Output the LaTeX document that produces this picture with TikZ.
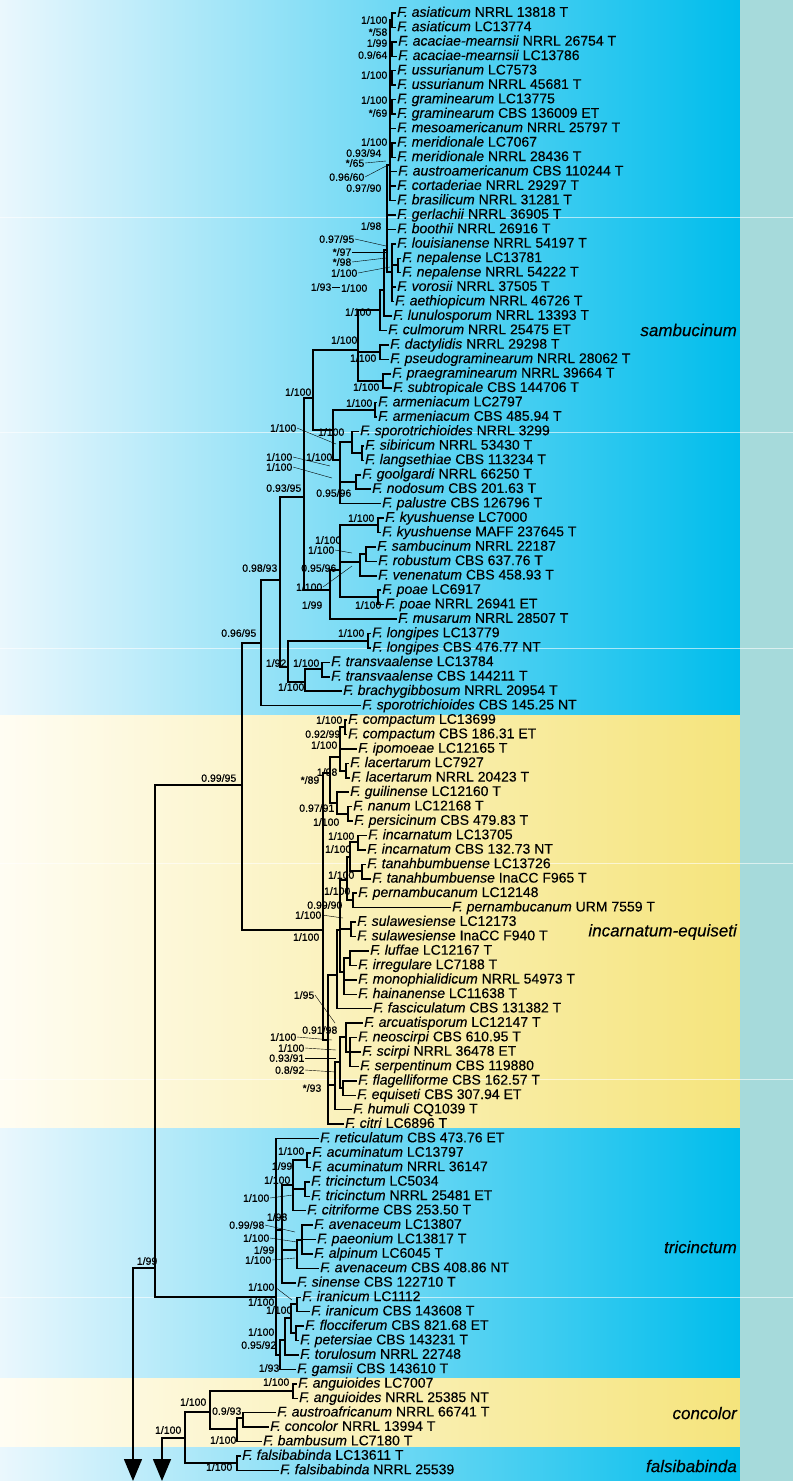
\documentclass[tikz,border=0pt]{standalone}
\usepackage{fontspec}
\setmainfont{Liberation Sans}
\newfontfamily\tipfont{Liberation Sans}[FakeBold=0.25]
\newfontfamily\supfont{Liberation Sans}[FakeBold=0.5]
\usetikzlibrary{arrows.meta}
\definecolor{bL}{HTML}{EAF7FD}
\definecolor{bM}{HTML}{A2DDF4}
\definecolor{bR}{HTML}{00BDEC}
\definecolor{yL}{HTML}{FFFDF3}
\definecolor{yM}{HTML}{FBF1C4}
\definecolor{yR}{HTML}{F5E47C}
\definecolor{strip}{HTML}{A6DADB}
\tikzset{
  tiplab/.style={anchor=west,inner xsep=2pt,inner ysep=0pt,text height=10pt,text depth=2.5pt,font=\tipfont\fontsize{14}{14}\selectfont},
  sup/.style={anchor=east,inner sep=0.5pt,font=\supfont\fontsize{10.5}{10.5}\selectfont},
  clade/.style={anchor=east,inner sep=0pt,font=\tipfont\fontsize{17}{17}\selectfont\itshape},
  branch/.style={line width=1.5pt,line cap=rect},
  lead/.style={line width=0.4pt},
  blueband/.style={left color=bL,middle color=bM,right color=bR},
  yellowband/.style={left color=yL,middle color=yM,right color=yR}
}
\newcommand\tx[4]{\node[tiplab] (#1) at ({#3-2},{13+(#2-1)*14.43}) {#4};}
\newcommand\sv[4]{\node[sup] (#1) at (#2,#3) {#4};}
\newcommand\eN[2]{\draw[branch] (#1) |- (#2);}
\newcommand\eT[2]{\draw[branch] (#1) |- (#2.west);}
\begin{document}
\begin{tikzpicture}[x=1pt,y=-1pt]
\useasboundingbox (0,0) rectangle (793,1481);
% backgrounds
\shade[blueband] (0,0) rectangle (740,715);
\shade[yellowband] (0,715) rectangle (740,1128);
\shade[blueband] (0,1128) rectangle (740,1378);
\shade[yellowband] (0,1378) rectangle (740,1447);
\shade[blueband] (0,1447) rectangle (740,1481);
\fill[strip] (740,0) rectangle (793,1481);
\foreach \yy in {217,432,648,863,1079,1297} \draw[white,line width=0.7pt,opacity=0.6] (0,\yy) -- (793,\yy);
% clade names
\node[clade] (cl1) at (737,330) {sambucinum};
\node[clade] (cl2) at (737,932) {incarnatum-equiseti};
\node[clade] (cl3) at (737,1247) {tricinctum};
\node[clade] (cl4) at (737,1413) {concolor};
\node[clade] (cl5) at (737,1466) {falsibabinda};
% tips
\tx{t1}{1}{397}{\textit{F. asiaticum} NRRL 13818 T}
\tx{t2}{2}{397}{\textit{F. asiaticum} LC13774}
\tx{t3}{3}{398}{\textit{F. acaciae-mearnsii} NRRL 26754 T}
\tx{t4}{4}{398}{\textit{F. acaciae-mearnsii} LC13786}
\tx{t5}{5}{397}{\textit{F. ussurianum} LC7573}
\tx{t6}{6}{397}{\textit{F. ussurianum} NRRL 45681 T}
\tx{t7}{7}{397}{\textit{F. graminearum} LC13775}
\tx{t8}{8}{397}{\textit{F. graminearum} CBS 136009 ET}
\tx{t9}{9}{397}{\textit{F. mesoamericanum} NRRL 25797 T}
\tx{t10}{10}{397}{\textit{F. meridionale} LC7067}
\tx{t11}{11}{397}{\textit{F. meridionale} NRRL 28436 T}
\tx{t12}{12}{398}{\textit{F. austroamericanum} CBS 110244 T}
\tx{t13}{13}{397}{\textit{F. cortaderiae} NRRL 29297 T}
\tx{t14}{14}{397}{\textit{F. brasilicum} NRRL 31281 T}
\tx{t15}{15}{397}{\textit{F. gerlachii} NRRL 36905 T}
\tx{t16}{16}{397}{\textit{F. boothii} NRRL 26916 T}
\tx{t17}{17}{397}{\textit{F. louisianense} NRRL 54197 T}
\tx{t18}{18}{402}{\textit{F. nepalense} LC13781}
\tx{t19}{19}{402}{\textit{F. nepalense} NRRL 54222 T}
\tx{t20}{20}{397}{\textit{F. vorosii} NRRL 37505 T}
\tx{t21}{21}{395}{\textit{F. aethiopicum} NRRL 46726 T}
\tx{t22}{22}{393}{\textit{F. lunulosporum} NRRL 13393 T}
\tx{t23}{23}{388}{\textit{F. culmorum} NRRL 25475 ET}
\tx{t24}{24}{390}{\textit{F. dactylidis} NRRL 29298 T}
\tx{t25}{25}{390}{\textit{F. pseudograminearum} NRRL 28062 T}
\tx{t26}{26}{392}{\textit{F. praegraminearum} NRRL 39664 T}
\tx{t27}{27}{393}{\textit{F. subtropicale} CBS 144706 T}
\tx{t28}{28}{378}{\textit{F. armeniacum} LC2797}
\tx{t29}{29}{378}{\textit{F. armeniacum} CBS 485.94 T}
\tx{t30}{30}{360}{\textit{F. sporotrichioides} NRRL 3299}
\tx{t31}{31}{365}{\textit{F. sibiricum} NRRL 53430 T}
\tx{t32}{32}{365}{\textit{F. langsethiae} CBS 113234 T}
\tx{t33}{33}{362}{\textit{F. goolgardi} NRRL 66250 T}
\tx{t34}{34}{372}{\textit{F. nodosum} CBS 201.63 T}
\tx{t35}{35}{382}{\textit{F. palustre} CBS 126796 T}
\tx{t36}{36}{385}{\textit{F. kyushuense} LC7000}
\tx{t37}{37}{382}{\textit{F. kyushuense} MAFF 237645 T}
\tx{t38}{38}{377}{\textit{F. sambucinum} NRRL 22187}
\tx{t39}{39}{378}{\textit{F. robustum} CBS 637.76 T}
\tx{t40}{40}{378}{\textit{F. venenatum} CBS 458.93 T}
\tx{t41}{41}{382}{\textit{F. poae} LC6917}
\tx{t42}{42}{385}{\textit{F. poae} NRRL 26941 ET}
\tx{t43}{43}{398}{\textit{F. musarum} NRRL 28507 T}
\tx{t44}{44}{372}{\textit{F. longipes} LC13779}
\tx{t45}{45}{372}{\textit{F. longipes} CBS 476.77 NT}
\tx{t46}{46}{331}{\textit{F. transvaalense} LC13784}
\tx{t47}{47}{331}{\textit{F. transvaalense} CBS 144211 T}
\tx{t48}{48}{343}{\textit{F. brachygibbosum} NRRL 20954 T}
\tx{t49}{49}{362}{\textit{F. sporotrichioides} CBS 145.25 NT}
\tx{t50}{50}{348}{\textit{F. compactum} LC13699}
\tx{t51}{51}{348}{\textit{F. compactum} CBS 186.31 ET}
\tx{t52}{52}{358}{\textit{F. ipomoeae} LC12165 T}
\tx{t53}{53}{350}{\textit{F. lacertarum} LC7927}
\tx{t54}{54}{351}{\textit{F. lacertarum} NRRL 20423 T}
\tx{t55}{55}{350}{\textit{F. guilinense} LC12160 T}
\tx{t56}{56}{353}{\textit{F. nanum} LC12168 T}
\tx{t57}{57}{354}{\textit{F. persicinum} CBS 479.83 T}
\tx{t58}{58}{368}{\textit{F. incarnatum} LC13705}
\tx{t59}{59}{367}{\textit{F. incarnatum} CBS 132.73 NT}
\tx{t60}{60}{367}{\textit{F. tanahbumbuense} LC13726}
\tx{t61}{61}{372}{\textit{F. tanahbumbuense} InaCC F965 T}
\tx{t62}{62}{358}{\textit{F. pernambucanum} LC12148}
\tx{t63}{63}{452}{\textit{F. pernambucanum} URM 7559 T}
\tx{t64}{64}{357}{\textit{F. sulawesiense} LC12173}
\tx{t65}{65}{357}{\textit{F. sulawesiense} InaCC F940 T}
\tx{t66}{66}{370}{\textit{F. luffae} LC12167 T}
\tx{t67}{67}{358}{\textit{F. irregulare} LC7188 T}
\tx{t68}{68}{358}{\textit{F. monophialidicum} NRRL 54973 T}
\tx{t69}{69}{358}{\textit{F. hainanense} LC11638 T}
\tx{t70}{70}{373}{\textit{F. fasciculatum} CBS 131382 T}
\tx{t71}{71}{364}{\textit{F. arcuatisporum} LC12147 T}
\tx{t72}{72}{358}{\textit{F. neoscirpi} CBS 610.95 T}
\tx{t73}{73}{362}{\textit{F. scirpi} NRRL 36478 ET}
\tx{t74}{74}{360}{\textit{F. serpentinum} CBS 119880}
\tx{t75}{75}{358}{\textit{F. flagelliforme} CBS 162.57 T}
\tx{t76}{76}{357}{\textit{F. equiseti} CBS 307.94 ET}
\tx{t77}{77}{353}{\textit{F. humuli} CQ1039 T}
\tx{t78}{78}{345}{\textit{F. citri} LC6896 T}
\tx{t79}{79}{320}{\textit{F. reticulatum} CBS 473.76 ET}
\tx{t80}{80}{312}{\textit{F. acuminatum} LC13797}
\tx{t81}{81}{312}{\textit{F. acuminatum} NRRL 36147}
\tx{t82}{82}{311}{\textit{F. tricinctum} LC5034}
\tx{t83}{83}{311}{\textit{F. tricinctum} NRRL 25481 ET}
\tx{t84}{84}{307}{\textit{F. citriforme} CBS 253.50 T}
\tx{t85}{85}{314}{\textit{F. avenaceum} LC13807}
\tx{t86}{86}{317}{\textit{F. paeonium} LC13817 T}
\tx{t87}{87}{314}{\textit{F. alpinum} LC6045 T}
\tx{t88}{88}{320}{\textit{F. avenaceum} CBS 408.86 NT}
\tx{t89}{89}{297}{\textit{F. sinense} CBS 122710 T}
\tx{t90}{90}{302}{\textit{F. iranicum} LC1112}
\tx{t91}{91}{311}{\textit{F. iranicum} CBS 143608 T}
\tx{t92}{92}{305}{\textit{F. flocciferum} CBS 821.68 ET}
\tx{t93}{93}{300}{\textit{F. petersiae} CBS 143231 T}
\tx{t94}{94}{300}{\textit{F. torulosum} NRRL 22748}
\tx{t95}{95}{297}{\textit{F. gamsii} CBS 143610 T}
\tx{t96}{96}{298}{\textit{F. anguioides} LC7007}
\tx{t97}{97}{299}{\textit{F. anguioides} NRRL 25385 NT}
\tx{t98}{98}{277}{\textit{F. austroafricanum} NRRL 66741 T}
\tx{t99}{99}{270}{\textit{F. concolor} NRRL 13994 T}
\tx{t100}{100}{263}{\textit{F. bambusum} LC7180 T}
\tx{t101}{101}{242}{\textit{F. falsibabinda} LC13611 T}
\tx{t102}{102}{280}{\textit{F. falsibabinda} NRRL 25539}
% internal nodes
\coordinate (a1) at (392,20);
\coordinate (a2) at (392,49);
\coordinate (a3) at (392,78);
\coordinate (a4) at (392,107);
\coordinate (a5) at (392,150);
\coordinate (g1) at (390,165);
\coordinate (nep) at (398,265);
\coordinate (g3) at (392,272);
\coordinate (g2) at (387,250);
\coordinate (g4) at (384,290);
\coordinate (g5) at (380,310);
\coordinate (ndp) at (380,352);
\coordinate (nps) at (383,381);
\coordinate (n358) at (358,350);
\coordinate (narm) at (375,410);
\coordinate (nsl) at (362,453);
\coordinate (nspsl) at (352,442);
\coordinate (ngn) at (356,482);
\coordinate (n338) at (340,460);
\coordinate (n333) at (333,430);
\coordinate (n313) at (313,398);
\coordinate (nkyu) at (378,525);
\coordinate (nsr) at (366,554);
\coordinate (nsam) at (360,562);
\coordinate (npoae) at (378,597);
\coordinate (k0) at (340,570);
\coordinate (n330) at (330,590);
\coordinate (n303) at (304,497);
\coordinate (nlon) at (368,641);
\coordinate (ntra) at (322,669);
\coordinate (nT) at (305,682);
\coordinate (nL) at (288,667);
\coordinate (S1) at (280,580);
\coordinate (S0) at (261,643);
\coordinate (R2) at (242,785);
\coordinate (R1) at (155,1268);
\coordinate (R0) at (133,1268);
\coordinate (R0e) at (133,1481);
\coordinate (ncomp) at (345,727);
\coordinate (nlac) at (346,771);
\coordinate (ie1) at (340,757);
\coordinate (nnp) at (348,814);
\coordinate (ngnp) at (337,803);
\coordinate (ie2) at (330,773);
\coordinate (ninc) at (358,842);
\coordinate (ntan) at (362,871);
\coordinate (nit) at (350,857);
\coordinate (nper) at (353,900);
\coordinate (nU) at (347,880);
\coordinate (nsul) at (351,929);
\coordinate (nli) at (350,958);
\coordinate (nmh) at (344,972);
\coordinate (nV) at (340,930);
\coordinate (nQ) at (337,975);
\coordinate (nsss) at (350,1052);
\coordinate (nA1) at (346,1037);
\coordinate (nfe) at (343,1088);
\coordinate (nA2) at (340,1062);
\coordinate (nA3) at (335,1085);
\coordinate (nA5) at (328,1040);
\coordinate (IE) at (323,930);
\coordinate (nacu) at (307,1160);
\coordinate (ntri) at (305,1189);
\coordinate (nac) at (293,1185);
\coordinate (napa) at (302,1240);
\coordinate (nav2) at (297,1250);
\coordinate (TA) at (282,1230);
\coordinate (nira) at (297,1304);
\coordinate (nfp) at (296,1333);
\coordinate (nb1) at (291,1318);
\coordinate (nb2) at (285,1340);
\coordinate (nb3) at (280,1355);
\coordinate (TR) at (276,1297);
\coordinate (nang) at (293,1391);
\coordinate (C3) at (243,1418);
\coordinate (C2) at (237,1429);
\coordinate (C1) at (210,1412);
\coordinate (nfal) at (237,1463);
\coordinate (F0) at (185,1438);
\coordinate (F0r) at (162,1438);
\coordinate (F0e) at (162,1481);
% branches: sambucinum
\eT{a1}{t1}\eT{a1}{t2}
\eT{a2}{t3}\eT{a2}{t4}
\eT{a3}{t5}\eT{a3}{t6}
\eT{a4}{t7}\eT{a4}{t8}
\eT{a5}{t10}\eT{a5}{t11}
\eN{g1}{a1}\eN{g1}{a2}\eN{g1}{a3}\eN{g1}{a4}\eT{g1}{t9}\eN{g1}{a5}\eT{g1}{t12}\eT{g1}{t13}\eT{g1}{t14}
\eT{nep}{t18}\eT{nep}{t19}
\eT{g3}{t17}\eN{g3}{nep}\eT{g3}{t20}\eT{g3}{t21}
\eN{g2}{g1}\eT{g2}{t15}\eT{g2}{t16}\eN{g2}{g3}
\eN{g4}{g2}\eT{g4}{t22}
\eN{g5}{g4}\eT{g5}{t23}
\eT{ndp}{t24}\eT{ndp}{t25}
\eT{nps}{t26}\eT{nps}{t27}
\eN{n358}{g5}\eN{n358}{ndp}\eN{n358}{nps}
\eT{narm}{t28}\eT{narm}{t29}
\eT{nsl}{t31}\eT{nsl}{t32}
\eT{nspsl}{t30}\eN{nspsl}{nsl}
\eT{ngn}{t33}\eT{ngn}{t34}
\eN{n338}{nspsl}\eN{n338}{ngn}\eT{n338}{t35}
\eN{n333}{narm}\eN{n333}{n338}
\eN{n313}{n358}\eN{n313}{n333}
\eT{nkyu}{t36}\eT{nkyu}{t37}
\eT{nsr}{t38}\eT{nsr}{t39}
\eN{nsam}{nsr}\eT{nsam}{t40}
\eT{npoae}{t41}\eT{npoae}{t42}
\eN{k0}{nkyu}\eN{k0}{nsam}\eN{k0}{npoae}
\eN{n330}{k0}\eT{n330}{t43}
\eN{n303}{n313}\eN{n303}{n330}
\eT{nlon}{t44}\eT{nlon}{t45}
\eT{ntra}{t46}\eT{ntra}{t47}
\eN{nT}{ntra}\eT{nT}{t48}
\eN{nL}{nlon}\eN{nL}{nT}
\eN{S1}{n303}\eN{S1}{nL}
\eN{S0}{S1}\eT{S0}{t49}
\eN{R2}{S0}\eN{R2}{IE}
% incarnatum-equiseti
\eT{ncomp}{t50}\eT{ncomp}{t51}
\eT{nlac}{t53}\eT{nlac}{t54}
\eN{ie1}{ncomp}\eT{ie1}{t52}\eN{ie1}{nlac}
\eT{nnp}{t56}\eT{nnp}{t57}
\eT{ngnp}{t55}\eN{ngnp}{nnp}
\eN{ie2}{ie1}\eN{ie2}{ngnp}
\eT{ninc}{t58}\eT{ninc}{t59}
\eT{ntan}{t60}\eT{ntan}{t61}
\eN{nit}{ninc}\eN{nit}{ntan}
\eT{nper}{t62}\eT{nper}{t63}
\eN{nU}{nit}\eN{nU}{nper}
\eT{nsul}{t64}\eT{nsul}{t65}
\eT{nli}{t66}\eT{nli}{t67}
\eN{nmh}{nli}\eT{nmh}{t68}\eT{nmh}{t69}
\eN{nV}{nU}\eN{nV}{nsul}\eN{nV}{nmh}
\eN{nQ}{nV}\eT{nQ}{t70}
\eT{nsss}{t72}\eT{nsss}{t73}\eT{nsss}{t74}
\eT{nA1}{t71}\eN{nA1}{nsss}
\eT{nfe}{t75}\eT{nfe}{t76}
\eN{nA2}{nA1}\eN{nA2}{nfe}
\eN{nA3}{nA2}\eT{nA3}{t77}
\eN{nA5}{nQ}\eN{nA5}{nA3}\eT{nA5}{t78}
\eN{IE}{ie2}\eN{IE}{nA5}
% tricinctum
\eT{nacu}{t80}\eT{nacu}{t81}
\eT{ntri}{t82}\eT{ntri}{t83}
\eN{nac}{nacu}\eN{nac}{ntri}\eT{nac}{t84}
\eT{napa}{t85}\eT{napa}{t86}\eT{napa}{t87}
\eN{nav2}{napa}\eT{nav2}{t88}
\eN{TA}{nac}\eN{TA}{nav2}\eT{TA}{t89}
\eT{nira}{t90}\eT{nira}{t91}
\eT{nfp}{t92}\eT{nfp}{t93}
\eN{nb1}{nira}\eN{nb1}{nfp}
\eN{nb2}{nb1}\eT{nb2}{t94}
\eN{nb3}{nb2}\eT{nb3}{t95}
\eT{TR}{t79}\eN{TR}{TA}\eN{TR}{nb3}
\eN{R1}{R2}\eN{R1}{TR}
\draw[branch] (R0) -- (R1);
\draw[branch,-{Triangle[width=18pt,length=22pt]}] (R0) -- (R0e);
% concolor / falsibabinda
\eT{nang}{t96}\eT{nang}{t97}
\eT{C3}{t98}\eT{C3}{t99}
\eN{C2}{C3}\eT{C2}{t100}
\eN{C1}{nang}\eN{C1}{C2}
\eT{nfal}{t101}\eT{nfal}{t102}
\eN{F0}{C1}\eN{F0}{nfal}
\draw[branch] (F0r) -- (F0);
\draw[branch,-{Triangle[width=18pt,length=22pt]}] (F0r) -- (F0e);
% support values
\sv{q1}{388}{20}{1/100}
\sv{q2}{388}{32}{*/58}
\sv{q3}{388}{43}{1/99}
\sv{q4}{388}{55}{0.9/64}
\sv{q5}{388}{75}{1/100}
\sv{q6}{388}{100}{1/100}
\sv{q7}{388}{113}{*/69}
\sv{q8}{388}{142}{1/100}
\sv{q9}{382}{153}{0.93/94}
\sv{q10}{365}{163}{*/65}
\sv{q11}{365}{177}{0.96/60}
\sv{q12}{382}{188}{0.97/90}
\sv{q13}{382}{226}{1/98}
\sv{q14}{355}{239}{0.97/95}
\sv{q15}{352}{252}{*/97}
\sv{q16}{352}{262}{*/98}
\sv{q17}{358}{273}{1/100}
\sv{q18}{332}{287}{1/93}
\sv{q19}{368}{288}{1/100}
\sv{q20}{372}{312}{1/100}
\sv{q21}{358}{340}{1/100}
\sv{q22}{377}{358}{1/100}
\sv{q23}{380}{387}{1/100}
\sv{q24}{312}{392}{1/100}
\sv{q25}{373}{403}{1/100}
\sv{q26}{297}{428}{1/100}
\sv{q27}{345}{432}{1/100}
\sv{q28}{333}{457}{1/100}
\sv{q29}{293}{457}{1/100}
\sv{q30}{293}{467}{1/100}
\sv{q31}{302}{488}{0.93/95}
\sv{q32}{352}{493}{0.95/96}
\sv{q33}{375}{518}{1/100}
\sv{q34}{342}{540}{1/100}
\sv{q35}{335}{550}{1/100}
\sv{q36}{278}{568}{0.98/93}
\sv{q37}{337}{568}{0.95/96}
\sv{q38}{323}{587}{1/100}
\sv{q39}{323}{605}{1/99}
\sv{q40}{382}{605}{1/100}
\sv{q41}{257}{633}{0.96/95}
\sv{q42}{365}{633}{1/100}
\sv{q43}{287}{663}{1/92}
\sv{q44}{320}{663}{1/100}
\sv{q45}{305}{687}{1/100}
\sv{q46}{237}{778}{0.99/95}
\sv{q47}{343}{720}{1/100}
\sv{q48}{341}{734}{0.92/99}
\sv{q49}{338}{745}{1/100}
\sv{q50}{338}{772}{1/98}
\sv{q51}{320}{780}{*/89}
\sv{q52}{335}{808}{0.97/91}
\sv{q53}{340}{822}{1/100}
\sv{q54}{355}{836}{1/100}
\sv{q55}{352}{849}{1/100}
\sv{q56}{355}{875}{1/100}
\sv{q57}{351}{891}{1/100}
\sv{q58}{343}{905}{0.99/90}
\sv{q59}{322}{915}{1/100}
\sv{q60}{320}{937}{1/100}
\sv{q61}{315}{995}{1/95}
\sv{q62}{338}{1030}{0.91/98}
\sv{q63}{297}{1037}{1/100}
\sv{q64}{305}{1048}{1/100}
\sv{q65}{305}{1058}{0.93/91}
\sv{q66}{305}{1070}{0.8/92}
\sv{q67}{322}{1088}{*/93}
\sv{q68}{305}{1151}{1/100}
\sv{q69}{293}{1166}{1/99}
\sv{q70}{291}{1180}{1/100}
\sv{q71}{270}{1198}{1/100}
\sv{q72}{288}{1217}{1/98}
\sv{q73}{265}{1225}{0.99/98}
\sv{q74}{270}{1238}{1/100}
\sv{q75}{275}{1250}{1/99}
\sv{q76}{272}{1260}{1/100}
\sv{q77}{275}{1287}{1/100}
\sv{q78}{275}{1302}{1/100}
\sv{q79}{293}{1310}{1/100}
\sv{q80}{275}{1332}{1/100}
\sv{q81}{277}{1345}{0.95/92}
\sv{q82}{280}{1368}{1/93}
\sv{q83}{158}{1261}{1/99}
\sv{q84}{290}{1382}{1/100}
\sv{q85}{207}{1402}{1/100}
\sv{q86}{242}{1411}{0.9/93}
\sv{q87}{182}{1430}{1/100}
\sv{q88}{237}{1440}{1/100}
\sv{q89}{233}{1467}{1/100}
% leader lines
\draw[lead] (q10.east) -- (386,161);
\draw[lead] (q11.east) -- (386,166);
\draw[lead] (q14.east) -- (386,246);
\draw[lead] (q15.east) -- (386,252);
\draw[lead] (q16.east) -- (386,258);
\draw[lead] (q17.east) -- (390,267);
\draw[lead] (q18.east) -- (340,287);
\draw[lead] (q26.east) -- (336,444);
\draw[lead] (q29.east) -- (330,466);
\draw[lead] (q30.east) -- (332,478);
\draw[lead] (q35.east) -- (352,553);
\draw[lead] (q38.east) -- (352,566);
\draw[lead] (q59.east) -- (343,918);
\draw[lead] (q61.east) -- (335,1023);
\draw[lead] (q63.east) -- (332,1040);
\draw[lead] (q64.east) -- (336,1050);
\draw[lead] (q65.east) -- (336,1058);
\draw[lead] (q66.east) -- (336,1072);
\draw[lead] (q71.east) -- (293,1195);
\draw[lead] (q73.east) -- (295,1232);
\draw[lead] (q74.east) -- (297,1242);
\draw[lead] (q76.east) -- (295,1258);
\draw[lead] (q77.east) -- (292,1300);
\end{tikzpicture}
\end{document}
